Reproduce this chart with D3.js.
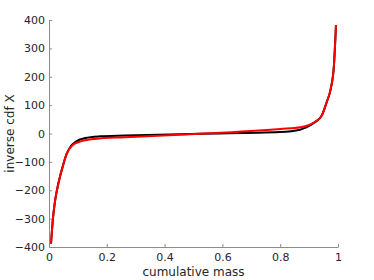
<!DOCTYPE html>
<html>
<head>
<meta charset="utf-8">
<script src="https://cdn.jsdelivr.net/npm/d3@7"></script>
<style>
  body { margin: 0; background: #fff; }
  svg { display: block; }
  .axis text { font-family: "DejaVu Sans", sans-serif; font-size: 11px; fill: #262626; }
  .axis path, .axis line { stroke: #8c8c8c; }
  .label { font-family: "DejaVu Sans", sans-serif; font-size: 12px; fill: #262626; }
</style>
</head>
<body>
<div id="chart"></div>
<script>
// cumulative mass -> inverse cdf
var massRed = [0.007, 0.014, 0.021, 0.032, 0.05, 0.061, 0.084, 0.113, 0.16, 0.263, 0.522, 0.8, 0.87, 0.9, 0.92, 0.944, 0.961, 0.975, 0.986, 0.993];
var invRed  = [-388, -296, -237, -178, -107, -72, -39, -27, -19, -13, -1, 16, 22, 30, 40, 64, 111, 158, 241, 382];

var massBlack = [0.007, 0.014, 0.021, 0.032, 0.05, 0.061, 0.076, 0.092, 0.125, 0.176, 0.263, 0.522, 0.8, 0.869, 0.886, 0.92, 0.944, 0.961, 0.975, 0.986, 0.993];
var invBlack  = [-388, -296, -237, -178, -107, -72, -44, -29, -16, -10, -7, -1, 5, 13, 20, 40, 64, 111, 158, 241, 382];

var xTicks = [0, 0.2, 0.4, 0.6, 0.8, 1];
var yTicks = [-400, -300, -200, -100, 0, 100, 200, 300, 400];

var W = 374, H = 280;
var margin = { top: 20, right: 36, bottom: 33, left: 49 };
var width = W - margin.left - margin.right;
var height = H - margin.top - margin.bottom;

var svg = d3.select('#chart').append('svg')
	.attr('width', W)
	.attr('height', H);
var g = svg.append('g')
	.attr('transform', 'translate(' + margin.left + ',' + margin.top + ')');

var x = d3.scaleLinear().domain([0, 1]).range([0, width]);
var y = d3.scaleLinear().domain([-400, 400]).range([height, 0]);

var xAxis = d3.axisBottom(x).tickValues(xTicks).tickSize(-3).tickPadding(6)
	.tickFormat(function(d) { return d === 0 || d === 1 ? d : d.toFixed(1); });
var yAxis = d3.axisLeft(y).tickValues(yTicks).tickSize(-3).tickPadding(4);

g.append('g').attr('class', 'x axis')
	.attr('transform', 'translate(0,' + height + ')')
	.call(xAxis)
	.call(function(s) { s.select('.domain').attr('d', 'M0.5,0.5H' + (width + 0.5)); });
g.append('g').attr('class', 'y axis')
	.call(yAxis)
	.call(function(s) { s.select('.domain').attr('d', 'M0.5,0.5V' + (height + 0.5)); });

var line = d3.line()
	.x(function(d) { return x(d[0]); })
	.y(function(d) { return y(d[1]); })
	.curve(d3.curveMonotoneX);

g.append('path')
	.datum(d3.zip(massBlack, invBlack))
	.attr('fill', 'none')
	.attr('stroke', '#000')
	.attr('stroke-width', 2)
	.attr('d', line);

g.append('path')
	.datum(d3.zip(massRed, invRed))
	.attr('fill', 'none')
	.attr('stroke', '#ff0000')
	.attr('stroke-width', 2)
	.attr('d', line);

svg.append('text').attr('class', 'label')
	.attr('x', margin.left + width / 2)
	.attr('y', H - 4)
	.attr('text-anchor', 'middle')
	.text('cumulative mass');

svg.append('text').attr('class', 'label')
	.attr('transform', 'translate(14,' + (margin.top + height / 2) + ') rotate(-90)')
	.attr('text-anchor', 'middle')
	.text('inverse cdf X');
</script>
</body>
</html>
